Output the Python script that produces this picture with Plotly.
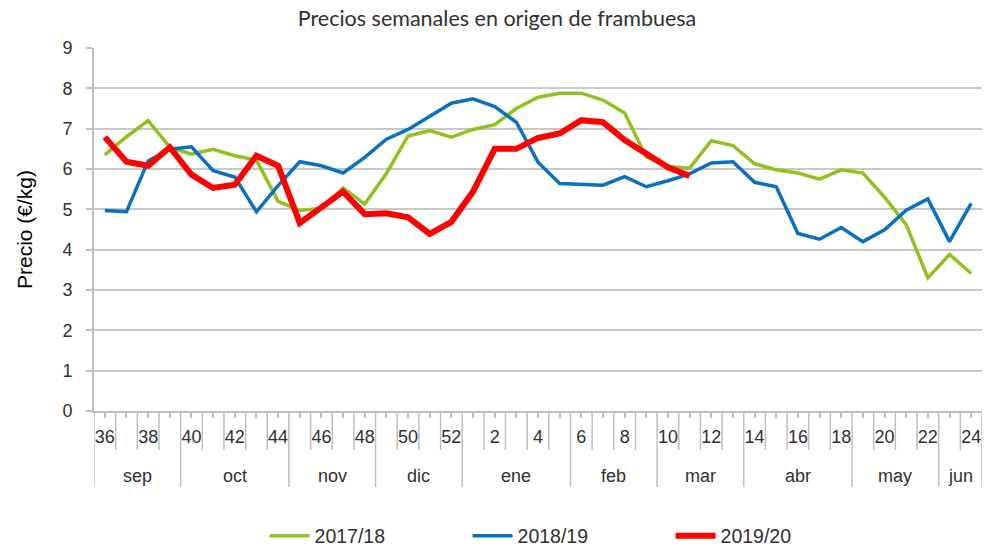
import plotly.graph_objects as go

weeks = [36, 37, 38, 39, 40, 41, 42, 43, 44, 45, 46, 47, 48, 49, 50, 51, 52,
         1, 2, 3, 4, 5, 6, 7, 8, 9, 10, 11, 12, 13, 14, 15, 16, 17, 18, 19, 20,
         21, 22, 23, 24]

months = ["sep", "oct", "nov", "dic", "ene", "feb", "mar", "abr", "may", "jun"]
month_weeks = [4, 5, 4, 4, 5, 4, 4, 5, 4, 2]

s2017 = [6.35, 6.80, 7.20, 6.54, 6.37, 6.49, 6.33, 6.22, 5.20, 4.97, 5.03,
         5.53, 5.13, 5.89, 6.82, 6.95, 6.79, 6.98, 7.10, 7.50, 7.78, 7.88,
         7.88, 7.71, 7.39, 6.30, 6.06, 6.02, 6.70, 6.58, 6.13, 5.98, 5.90,
         5.75, 5.98, 5.90, 5.30, 4.62, 3.30, 3.88, 3.41]

s2018 = [4.97, 4.94, 6.20, 6.49, 6.55, 5.96, 5.80, 4.94, 5.59, 6.18, 6.08,
         5.90, 6.29, 6.74, 6.98, 7.30, 7.63, 7.74, 7.55, 7.16, 6.17, 5.64,
         5.63, 5.60, 5.81, 5.56, 5.71, 5.88, 6.15, 6.18, 5.67, 5.56, 4.40,
         4.26, 4.55, 4.20, 4.49, 4.98, 5.26, 4.20, 5.15]

s2019 = [6.79, 6.18, 6.08, 6.54, 5.86, 5.53, 5.61, 6.33, 6.08, 4.66, 5.05,
         5.44, 4.88, 4.90, 4.80, 4.39, 4.69, 5.44, 6.50, 6.50, 6.77, 6.88,
         7.21, 7.16, 6.72, 6.39, 6.04, 5.83]

series = [
    ("2017/18", s2017, "#92C01F", 3.5),
    ("2018/19", s2018, "#0A70C0", 3.5),
    ("2019/20", s2019, "#FF0000", 6),
]

title_text = "Precios semanales en origen de frambuesa"
y_title = "Precio (€/kg)"

idx = list(range(len(weeks)))
fig = go.Figure()
for name, vals, color, w in series:
    fig.add_trace(go.Scatter(
        x=idx[:len(vals)], y=vals, mode="lines", name=name,
        line=dict(color=color, width=w)))

AX = "#BFBFBF"
TXT = "#303030"
FONT = "Liberation Sans, Arial, sans-serif"

plot_h = 549 - 48 - 138
short_sep = -39 / plot_h
long_sep = -76 / plot_h
month_y = -65 / plot_h

shapes = []
month_start = [sum(month_weeks[:k]) for k in range(len(month_weeks) + 1)]
for b in range(len(weeks) + 1):
    y1 = long_sep if b in month_start else short_sep
    shapes.append(dict(type="line", xref="x", yref="paper",
                       x0=b - 0.5, x1=b - 0.5, y0=0, y1=y1,
                       line=dict(color=AX, width=1.5)))

annotations = []
for k, m in enumerate(months):
    center = (month_start[k] + month_start[k + 1] - 1) / 2
    annotations.append(dict(x=center, y=month_y, xref="x", yref="paper",
                            text=m, showarrow=False, yanchor="middle",
                            font=dict(family=FONT, size=18, color=TXT)))

ticktext = [str(w) if w % 2 == 0 else "" for w in weeks]

fig.update_layout(
    width=994, height=549,
    margin=dict(l=94, r=12, t=48, b=138),
    paper_bgcolor="white", plot_bgcolor="white",
    title=dict(text=title_text, x=0.5, xanchor="center", y=0.967,
               yanchor="middle",
               font=dict(family="Lato, Open Sans, sans-serif", size=21.5,
                         color=TXT)),
    xaxis=dict(range=[-0.5, len(weeks) - 0.5], tickmode="array",
               tickvals=idx, ticktext=ticktext, ticks="outside", ticklen=5,
               tickcolor=AX, tickwidth=1.5, showgrid=False, zeroline=False,
               showline=True, linecolor=AX, linewidth=2, automargin=False,
               tickfont=dict(family=FONT, size=18, color=TXT),
               ticklabelstandoff=3),
    yaxis=dict(range=[0, 9], dtick=1, ticks="outside", ticklen=6,
               tickcolor=AX, tickwidth=1.5, showgrid=True, gridcolor="#C8C8C8",
               gridwidth=1.5, zeroline=False, showline=True, linecolor=AX,
               linewidth=2, automargin=False,
               tickfont=dict(family=FONT, size=18, color=TXT),
               ticklabelstandoff=10,
               title=dict(text=y_title, standoff=24,
                          font=dict(family=FONT, size=21, color="#000000"))),
    legend=dict(orientation="h", xref="container", yref="container",
                x=0.5725, xanchor="center", y=13 / 549, yanchor="middle",
                font=dict(family=FONT, size=19.5, color=TXT),
                entrywidth=148, entrywidthmode="pixels", itemwidth=40),
    shapes=shapes, annotations=annotations,
)

fig.write_html("out.html", config={"displayModeBar": False},
               post_script="document.body.style.margin='0px';")
